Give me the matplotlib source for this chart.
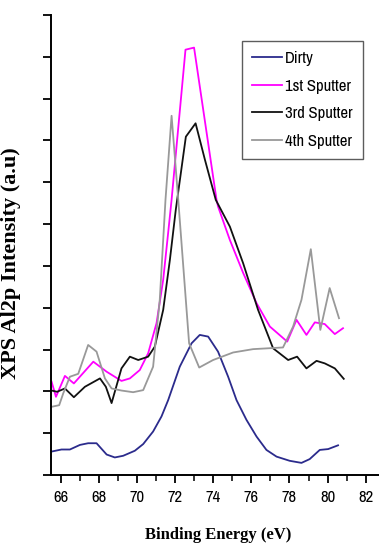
import numpy as np
import matplotlib
matplotlib.use('Agg')
import matplotlib.pyplot as plt
from matplotlib.ticker import MultipleLocator

# Al2p spectra
dirty_x = [65.5, 66.03, 66.47, 67.0, 67.43, 67.87, 68.4, 68.83, 69.27, 69.88, 70.32, 70.84,
           71.28, 71.63, 72.24, 72.86, 73.29, 73.73, 74.25, 74.78, 75.22, 75.74, 76.27,
           76.79, 77.32, 78.01, 78.63, 79.06, 79.59, 80.03, 80.55]
dirty_y = [0.56, 0.61, 0.61, 0.72, 0.76, 0.76, 0.49, 0.42, 0.46, 0.58, 0.74, 1.04,
           1.40, 1.79, 2.59, 3.15, 3.35, 3.31, 2.95, 2.35, 1.79, 1.32, 0.92,
           0.60, 0.44, 0.34, 0.29, 0.38, 0.60, 0.62, 0.71]

s1_x = [65.51, 65.74, 66.21, 66.68, 67.7, 68.4, 69.18, 69.62, 70.14, 70.58, 71.02, 71.37,
        71.63, 71.81, 72.54, 72.99, 74.17, 74.25, 74.87, 75.57, 76.27, 76.97, 77.88,
        78.37, 78.89, 79.33, 79.85, 80.38, 80.81]
s1_y = [2.23, 1.87, 2.37, 2.19, 2.71, 2.47, 2.25, 2.31, 2.51, 2.91, 3.63, 4.67,
        5.79, 6.58, 10.17, 10.22, 6.58, 6.42, 5.62, 4.83, 4.11, 3.55, 3.19,
        3.71, 3.35, 3.65, 3.61, 3.37, 3.51]

s3_x = [65.51, 65.8, 66.21, 66.68, 67.26, 68.05, 68.36, 68.66, 69.18, 69.62, 70.06, 70.58,
        70.93, 71.37, 71.72, 72.03, 72.56, 73.07, 73.56, 74.13, 74.87, 75.57, 76.35,
        77.14, 77.93, 78.4, 78.89, 79.42, 79.85, 80.38, 80.85]
s3_y = [2.02, 1.99, 2.07, 1.86, 2.11, 2.31, 2.11, 1.72, 2.55, 2.83, 2.75, 2.83,
        3.07, 3.95, 5.14, 6.34, 8.09, 8.41, 7.54, 6.58, 5.94, 5.06, 3.95,
        3.03, 2.75, 2.83, 2.55, 2.73, 2.67, 2.55, 2.30]

s4_x = [65.5, 65.91, 66.12, 66.47, 66.91, 67.43, 67.87, 68.31, 68.66, 69.18, 69.79, 70.32,
        70.84, 71.19, 71.49, 71.81, 72.16, 72.73, 73.26, 73.99, 75.04, 76.09, 77.66,
        78.19, 78.63, 79.12, 79.62, 80.11, 80.6]
s4_y = [1.63, 1.67, 1.95, 2.35, 2.42, 3.11, 2.95, 2.31, 2.07, 2.02, 1.98, 2.03,
        2.59, 4.19, 6.58, 8.59, 6.58, 3.15, 2.57, 2.75, 2.93, 3.01, 3.05,
        3.55, 4.19, 5.40, 3.47, 4.47, 3.75]

x_ticks = [66, 68, 70, 72, 74, 76, 78, 80, 82]

narrow = ['Archivo Narrow', 'Roboto Condensed', 'DejaVu Sans']
serif = ['Liberation Serif', 'DejaVu Serif']

fig = plt.figure(figsize=(3.79, 5.47), dpi=100)
ax = fig.add_axes([0.1346, 0.1316, 0.8654, 0.8410])

ax.plot(dirty_x, dirty_y, color='#2b2b8c', lw=1.3, label='Dirty')
ax.plot(s1_x, s1_y, color='#ff00ff', lw=1.3, label='1st Sputter')
ax.plot(s3_x, s3_y, color='#111111', lw=1.3, label='3rd Sputter')
ax.plot(s4_x, s4_y, color='#999999', lw=1.3, label='4th Sputter')

ax.set_xlim(65.48, 82.7)
ax.set_ylim(0, 11)
ax.set_xticks(x_ticks)
ax.xaxis.set_minor_locator(MultipleLocator(1))
ax.yaxis.set_major_locator(MultipleLocator(1))
ax.set_yticklabels([])
for lab in ax.get_xticklabels():
    lab.set_family(narrow)
    lab.set_fontsize(12)

ax.spines['top'].set_visible(False)
ax.spines['right'].set_visible(False)
ax.spines['left'].set_linewidth(1.4)
ax.spines['bottom'].set_linewidth(1.4)
ax.tick_params(axis='both', which='major', direction='out', length=6, width=1.3, pad=5)
ax.tick_params(axis='x', which='minor', direction='out', length=4, width=1.1)

ax.set_xlabel('Binding Energy (eV)', family=serif, fontweight='bold', fontsize=12)
ax.xaxis.set_label_coords(0.51, -0.112)
ax.set_ylabel('XPS Al2p Intensity (a.u)', family=serif, fontweight='bold', fontsize=16)
ax.yaxis.set_label_coords(-0.092, 0.46)

leg = ax.legend(loc='upper left', bbox_to_anchor=(0.582, 0.943), prop={'family': narrow, 'size': 12},
                frameon=True, fancybox=False, edgecolor='#333333', handlelength=1.8,
                handletextpad=0.2, labelspacing=0.75, borderpad=0.6, borderaxespad=0)
leg.get_frame().set_linewidth(1.0)

fig.savefig('out.png', dpi=100)
